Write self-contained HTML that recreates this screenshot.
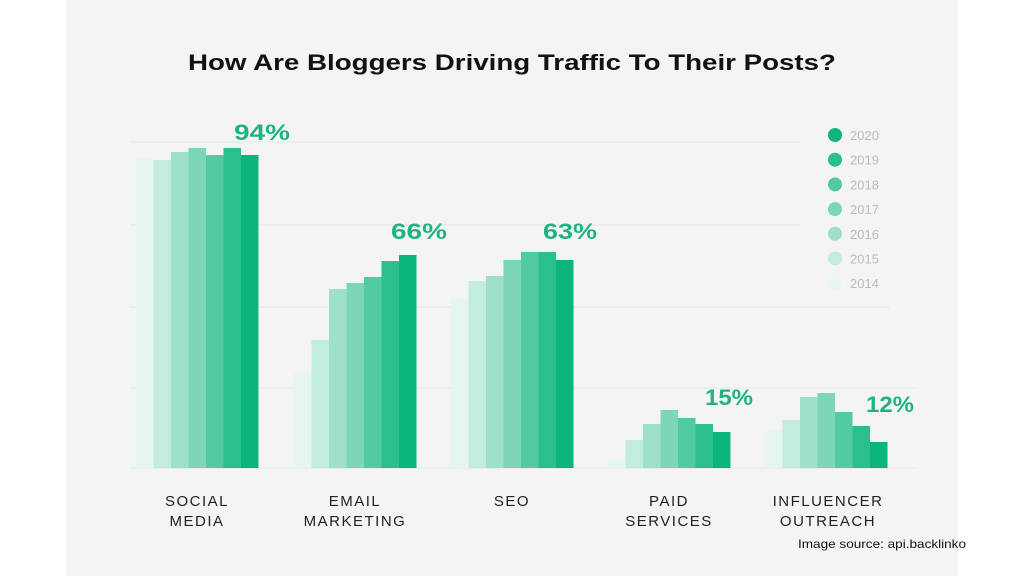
<!DOCTYPE html>
<html><head><meta charset="utf-8"><style>
body{margin:0;background:#fff;}
</style></head><body>
<svg width="1024" height="576" xmlns="http://www.w3.org/2000/svg" font-family="Liberation Sans, sans-serif">
<rect x="0" y="0" width="1024" height="576" fill="#fff"/>
<rect x="66" y="0" width="892" height="576" fill="#f4f4f4"/>
<text x="188" y="70" font-size="22" font-weight="bold" fill="#111" textLength="648" lengthAdjust="spacingAndGlyphs">How Are Bloggers Driving Traffic To Their Posts?</text>
<g stroke="#e6e6e6" stroke-width="1">
<line x1="130" y1="142" x2="800" y2="142"/>
<line x1="130" y1="225" x2="800" y2="225"/>
<line x1="130" y1="307" x2="890" y2="307"/>
<line x1="130" y1="388" x2="915" y2="388"/>
<line x1="130" y1="468" x2="915" y2="468"/>
</g>
<g font-size="22" font-weight="bold" fill="#1fb384" lengthAdjust="spacingAndGlyphs">
<text x="234" y="140" textLength="56" lengthAdjust="spacingAndGlyphs">94%</text>
<text x="391" y="239" textLength="56" lengthAdjust="spacingAndGlyphs">66%</text>
<text x="543" y="239" textLength="54" lengthAdjust="spacingAndGlyphs">63%</text>
<text x="705" y="405" textLength="48" lengthAdjust="spacingAndGlyphs">15%</text>
<text x="866" y="412" textLength="48" lengthAdjust="spacingAndGlyphs">12%</text>
</g>
<g font-size="13" fill="#bdbdbd">
<circle cx="835" cy="135" r="7" fill="#0bb57c"/><text x="850" y="140">2020</text>
<circle cx="835" cy="159.7" r="7" fill="#2bbf8d"/><text x="850" y="164.7">2019</text>
<circle cx="835" cy="184.4" r="7" fill="#52cba2"/><text x="850" y="189.4">2018</text>
<circle cx="835" cy="209.1" r="7" fill="#7dd6b6"/><text x="850" y="214.1">2017</text>
<circle cx="835" cy="233.8" r="7" fill="#9fe0c9"/><text x="850" y="238.8">2016</text>
<circle cx="835" cy="258.5" r="7" fill="#c2ecdd"/><text x="850" y="263.5">2015</text>
<circle cx="835" cy="283.2" r="7" fill="#e6f7f1"/><text x="850" y="288.2">2014</text>
</g>
<g font-size="15" fill="#222" text-anchor="middle" letter-spacing="1.5">
<text x="197" y="506">SOCIAL</text><text x="197" y="526">MEDIA</text>
<text x="355" y="506">EMAIL</text><text x="355" y="526">MARKETING</text>
<text x="512" y="506">SEO</text>
<text x="669" y="506">PAID</text><text x="669" y="526">SERVICES</text>
<text x="828" y="506">INFLUENCER</text><text x="828" y="526">OUTREACH</text>
</g>
<text x="798" y="548" font-size="12" fill="#111" textLength="168" lengthAdjust="spacingAndGlyphs">Image source: api.backlinko</text>
<g>
<rect x="136" y="158" width="17.5" height="310" fill="#e6f7f1"/>
<rect x="153.5" y="160" width="17.5" height="308" fill="#c2ecdd"/>
<rect x="171" y="152" width="17.5" height="316" fill="#9fe0c9"/>
<rect x="188.5" y="148" width="17.5" height="320" fill="#7dd6b6"/>
<rect x="206" y="155" width="17.5" height="313" fill="#52cba2"/>
<rect x="223.5" y="148" width="17.5" height="320" fill="#2bbf8d"/>
<rect x="241" y="155" width="17.5" height="313" fill="#0bb57c"/>
<rect x="294" y="372" width="17.5" height="96" fill="#e6f7f1"/>
<rect x="311.5" y="340" width="17.5" height="128" fill="#c2ecdd"/>
<rect x="329" y="289" width="17.5" height="179" fill="#9fe0c9"/>
<rect x="346.5" y="283" width="17.5" height="185" fill="#7dd6b6"/>
<rect x="364" y="277" width="17.5" height="191" fill="#52cba2"/>
<rect x="381.5" y="261" width="17.5" height="207" fill="#2bbf8d"/>
<rect x="399" y="255" width="17.5" height="213" fill="#0bb57c"/>
<rect x="451" y="298" width="17.5" height="170" fill="#e6f7f1"/>
<rect x="468.5" y="281" width="17.5" height="187" fill="#c2ecdd"/>
<rect x="486" y="276" width="17.5" height="192" fill="#9fe0c9"/>
<rect x="503.5" y="260" width="17.5" height="208" fill="#7dd6b6"/>
<rect x="521" y="252" width="17.5" height="216" fill="#52cba2"/>
<rect x="538.5" y="252" width="17.5" height="216" fill="#2bbf8d"/>
<rect x="556" y="260" width="17.5" height="208" fill="#0bb57c"/>
<rect x="608" y="460" width="17.5" height="8" fill="#e6f7f1"/>
<rect x="625.5" y="440" width="17.5" height="28" fill="#c2ecdd"/>
<rect x="643" y="424" width="17.5" height="44" fill="#9fe0c9"/>
<rect x="660.5" y="410" width="17.5" height="58" fill="#7dd6b6"/>
<rect x="678" y="418" width="17.5" height="50" fill="#52cba2"/>
<rect x="695.5" y="424" width="17.5" height="44" fill="#2bbf8d"/>
<rect x="713" y="432" width="17.5" height="36" fill="#0bb57c"/>
<rect x="765" y="430" width="17.5" height="38" fill="#e6f7f1"/>
<rect x="782.5" y="420" width="17.5" height="48" fill="#c2ecdd"/>
<rect x="800" y="397" width="17.5" height="71" fill="#9fe0c9"/>
<rect x="817.5" y="393" width="17.5" height="75" fill="#7dd6b6"/>
<rect x="835" y="412" width="17.5" height="56" fill="#52cba2"/>
<rect x="852.5" y="426" width="17.5" height="42" fill="#2bbf8d"/>
<rect x="870" y="442" width="17.5" height="26" fill="#0bb57c"/>
</g>
</svg>
</body></html>
